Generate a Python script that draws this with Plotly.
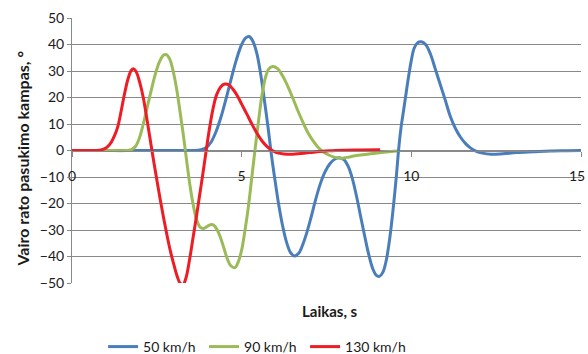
import plotly.graph_objects as go

# ---- data ----
t_50 = [0, 1, 2, 3, 3.6, 3.8, 3.95, 4.1, 4.25, 4.4, 4.55, 4.7, 4.85, 5.0, 5.12, 5.22,
        5.32, 5.45, 5.57, 5.68, 5.78, 5.88, 5.98, 6.08, 6.2, 6.32, 6.44, 6.56, 6.68,
        6.8, 6.92, 7.05, 7.18, 7.32, 7.46, 7.6, 7.75, 7.9, 8.02, 8.14, 8.26, 8.38, 8.5,
        8.62, 8.74, 8.86, 8.96, 9.06, 9.16, 9.26, 9.36, 9.46, 9.56, 9.63, 9.70, 9.77,
        9.85, 9.92, 10.0, 10.08, 10.18, 10.3, 10.42, 10.56, 10.7, 10.85, 11.0, 11.15,
        11.3, 11.45, 11.6, 11.75, 11.9, 12.1, 12.35, 12.7, 13.1, 13.6, 14.1, 14.6, 15]
v_50 = [0, 0, 0, 0, 0, 0.3, 1.0, 3.2, 7.3, 13, 20, 27.5, 34.5, 40, 42.5, 43,
        41.5, 36.5, 28, 18, 8.5, -2, -11, -19.5, -28, -34.5, -38.5, -39.8, -38.8,
        -35.5, -31, -25, -18.5, -12.5, -8, -5, -3.2, -2.8, -3.5, -6, -10.5, -17, -24.5,
        -32, -39, -44.5, -47, -47.5, -46, -41.5, -33.5, -22.5, -9.5, 1, 9, 15,
        22, 28, 34, 38.5, 40.6, 41, 40, 36.5, 31, 25, 19, 12.8,
        8.3, 5, 2.6, 0.9, -0.2, -1.0, -1.4, -1.2, -0.8, -0.5, -0.2, -0.1, 0]

t_90 = [0, 1, 1.6, 1.75, 1.87, 1.98, 2.1, 2.22, 2.34, 2.46, 2.58, 2.7, 2.78, 2.88,
        2.98, 3.08, 3.18, 3.28, 3.38, 3.48, 3.58, 3.68, 3.78, 3.88, 3.98, 4.08, 4.18,
        4.28, 4.38, 4.48, 4.58, 4.68, 4.8, 4.9, 5.0, 5.1, 5.2, 5.3, 5.4, 5.5, 5.6, 5.7,
        5.8, 5.92, 6.05, 6.2, 6.35, 6.5, 6.65, 6.8, 6.95, 7.1, 7.25, 7.4, 7.55, 7.7,
        7.9, 8.1, 8.3, 8.5, 8.8, 9.1, 9.4, 9.58]
v_90 = [0, 0, 0, 0.3, 1.5, 4.5, 10, 16.5, 23, 29, 33.5, 36, 36.2, 34.5,
        30, 23.5, 15, 6, -4, -13.5, -21, -26.5, -29, -29.4, -28.7, -28, -28.2,
        -30, -33, -37, -41, -43.5, -44.2, -42, -37.5, -30, -21, -10, 1, 11.5, 21, 27.5,
        30.8, 31.7, 31, 28.3, 24.5, 20, 15.2, 10.8, 6.8, 3.7, 1.2, -0.5, -1.6, -2.4,
        -2.9, -2.6, -2.1, -1.7, -1.2, -0.8, -0.4, -0.2]

t_130 = [0, 0.5, 0.8, 0.95, 1.05, 1.15, 1.25, 1.35, 1.45, 1.55, 1.65, 1.75, 1.82,
         1.9, 2.0, 2.1, 2.2, 2.3, 2.4, 2.5, 2.6, 2.7, 2.8, 2.9, 3.0, 3.1, 3.2, 3.28,
         3.36, 3.46, 3.56, 3.66, 3.76, 3.86, 3.96, 4.06, 4.16, 4.26, 4.38, 4.5, 4.62,
         4.75, 4.88, 5.0, 5.15, 5.3, 5.45, 5.6, 5.75, 5.9, 6.05, 6.25, 6.5, 6.75, 7.0,
         7.3, 7.6, 8.0, 8.5, 9.08]
v_130 = [0, 0, 0.1, 0.6, 1.5, 3, 5.5, 9, 15, 21.5, 27, 30.3, 30.8,
         29.5, 25.5, 20, 12.5, 4.5, -3.5, -11, -18.5, -25.5, -32, -38, -43, -47.5, -50.3, -50.5,
         -48, -41.5, -33.5, -25.5, -17, -8.5, 0.5, 9, 16, 21, 24, 25.1, 24.8,
         23, 20.5, 17.5, 13.8, 10, 6.5, 3.6, 1.5, 0, -0.9, -1.3, -1.4, -1.1, -0.8,
         -0.4, -0.1, 0.1, 0.2, 0.3]

series_names = ["50 km/h", "90 km/h", "130 km/h"]
series_colors = ["#4A7EBB", "#9BBB59", "#EE1C25"]

x_ticks = [0, 5, 10, 15]
y_ticks = [50, 40, 30, 20, 10, 0, -10, -20, -30, -40, -50]

FONT = "Lato"
GRID = "#898989"
TXT = "#1a1a1a"

fig = go.Figure()
for tx, vy, name, col in zip([t_50, t_90, t_130], [v_50, v_90, v_130], series_names, series_colors):
    fig.add_trace(go.Scatter(x=tx, y=vy, mode="lines", name=name,
                             line=dict(color=col, width=3, shape="spline", smoothing=1.0)))

# last x tick label is placed as text kept inside the page
x_ticktext = [str(v) for v in x_ticks[:-1]] + [""]

fig.update_layout(
    width=588, height=354,
    margin=dict(l=72, r=7, t=18, b=71, autoexpand=False),
    paper_bgcolor="white", plot_bgcolor="white",
    font=dict(family=FONT, size=14, color=TXT),
    showlegend=True,
    legend=dict(orientation="h", x=0.061, xanchor="left", y=-0.2415, yanchor="middle",
                font=dict(family=FONT, size=14, color=TXT), itemwidth=30, entrywidth=56,
                bgcolor="rgba(0,0,0,0)"),
    xaxis=dict(range=[0, 15], tickvals=x_ticks, ticktext=x_ticktext,
               showgrid=False, zeroline=False, showline=True, linecolor=GRID, linewidth=1,
               ticks="outside", ticklen=5, tickcolor=GRID, anchor="free", position=0.5,
               ticklabelstandoff=8, automargin=False, ticklabeloverflow="allow",
               tickfont=dict(family=FONT, size=14, color=TXT)),
    yaxis=dict(range=[-50, 50], tickvals=y_ticks, showgrid=True, gridcolor=GRID, gridwidth=1,
               zeroline=False, showline=True, linecolor=GRID, linewidth=1,
               ticks="outside", ticklen=4, tickcolor=GRID, automargin=False,
               tickfont=dict(family=FONT, size=14, color=TXT)),
    annotations=[
        dict(text=str(x_ticks[-1]), xref="paper", yref="paper", x=(587 - 72) / 509, y=0.5,
             xanchor="right", yanchor="top", yshift=-14, showarrow=False,
             font=dict(family=FONT, size=14, color=TXT)),
        dict(text="<b>Laikas, s</b>", xref="paper", yref="paper", x=0.506, y=-0.106,
             xanchor="center", yanchor="middle", showarrow=False,
             font=dict(family=FONT, size=15, color=TXT)),
        dict(text="<b>Vairo rato pasukimo kampas, °</b>", xref="paper", yref="paper",
             x=-0.098, y=0.47, xanchor="center", yanchor="middle", textangle=-90,
             showarrow=False, font=dict(family=FONT, size=16, color=TXT)),
    ],
)

fig.write_html("out.html", config={"displayModeBar": False},
               post_script="document.body.style.margin='0';document.body.style.padding='0';")
